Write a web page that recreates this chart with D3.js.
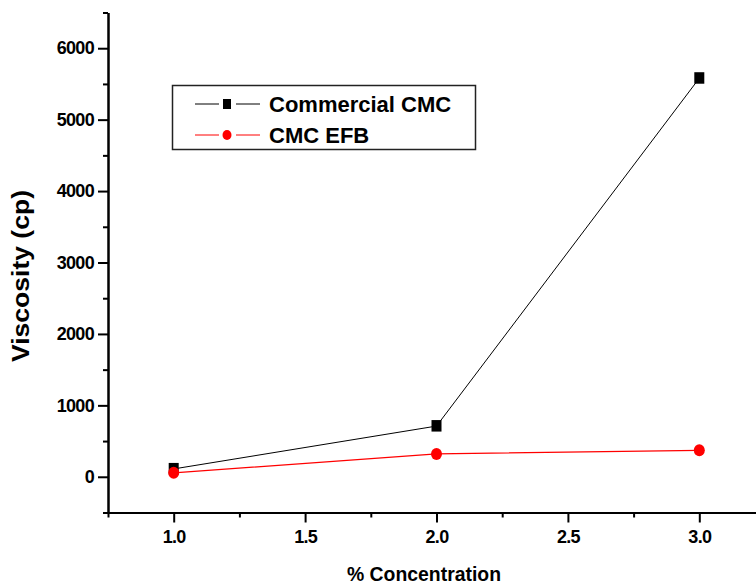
<!DOCTYPE html>
<html>
<head>
<meta charset="utf-8">
<script src="https://cdn.jsdelivr.net/npm/d3@7"></script>
<style>
  body { margin: 0; background: #fff; }
  svg text { font-family: "Liberation Sans", Arial, sans-serif; font-weight: bold; }
</style>
</head>
<body>
<div id="chart"></div>
<script>
// data
var concentration = [1.0, 2.0, 3.0];
var commercialCMC = [110, 710, 5580];
var cmcEFB = [55, 320, 370];
var seriesNames = ["Commercial CMC", "CMC EFB"];
var xTicks = [1.0, 1.5, 2.0, 2.5, 3.0];
var xMinorTicks = [0.75, 1.25, 1.75, 2.25, 2.75, 3.25];
var yTicks = [0, 1000, 2000, 3000, 4000, 5000, 6000];
var yMinorTicks = [-500, 500, 1500, 2500, 3500, 4500, 5500, 6500];

var width = 756, height = 584;

var svg = d3.select("#chart").append("svg")
  .attr("width", width)
  .attr("height", height);

// scales
var x = d3.scaleLinear().domain([0.75, 3.25]).range([108, 765]);
var y = d3.scaleLinear().domain([-500, 6500]).range([512.5, 12.5]);

// x axis
svg.append("g")
  .attr("transform", "translate(0," + y(-500) + ")")
  .call(d3.axisBottom(x).tickValues(xTicks).tickSize(10).tickSizeOuter(0).tickPadding(8)
    .tickFormat(d3.format(".1f")));
svg.append("g")
  .attr("transform", "translate(0," + y(-500) + ")")
  .call(d3.axisBottom(x).tickValues(xMinorTicks).tickSize(5).tickSizeOuter(0).tickFormat(""));

// y axis
svg.append("g")
  .attr("transform", "translate(" + x(0.75) + ",0)")
  .call(d3.axisLeft(y).tickValues(yTicks).tickSize(10).tickSizeOuter(0).tickPadding(4)
    .tickFormat(d3.format("d")));
svg.append("g")
  .attr("transform", "translate(" + x(0.75) + ",0)")
  .call(d3.axisLeft(y).tickValues(yMinorTicks).tickSize(5).tickSizeOuter(0).tickFormat(""));

svg.selectAll(".domain, .tick line").attr("stroke", "#000").attr("stroke-width", 2);
svg.selectAll(".tick text").attr("fill", "#000")
  .style("font-size", "18px").style("letter-spacing", "-0.7px");

// axis titles
svg.append("text")
  .attr("transform", "translate(29,276) rotate(-90)")
  .attr("text-anchor", "middle")
  .attr("textLength", 172)
  .attr("lengthAdjust", "spacingAndGlyphs")
  .style("font-size", "23px")
  .text("Viscosity (cp)");

svg.append("text")
  .attr("x", 424)
  .attr("y", 581)
  .attr("text-anchor", "middle")
  .attr("textLength", 154)
  .attr("lengthAdjust", "spacingAndGlyphs")
  .style("font-size", "21px")
  .text("% Concentration");

// lines
var line = d3.line()
  .x(function(d, i) { return x(concentration[i]); })
  .y(function(d) { return y(d); });

svg.append("path").datum(commercialCMC)
  .attr("d", line).attr("fill", "none").attr("stroke", "#000").attr("stroke-width", 1);
svg.append("path").datum(cmcEFB)
  .attr("d", line).attr("fill", "none").attr("stroke", "#ff0000").attr("stroke-width", 1.2);

// markers
svg.append("g").selectAll("rect")
  .data(commercialCMC).enter()
  .append("rect")
  .attr("x", function(d, i) { return x(concentration[i]) - 5; })
  .attr("y", function(d) { return y(d) - 6; })
  .attr("width", 10)
  .attr("height", 11.5)
  .attr("fill", "#000");

svg.append("g").selectAll("ellipse")
  .data(cmcEFB).enter()
  .append("ellipse")
  .attr("cx", function(d, i) { return x(concentration[i]); })
  .attr("cy", function(d) { return y(d); })
  .attr("rx", 5.5)
  .attr("ry", 6)
  .attr("fill", "#ff0000");

// legend
var legend = svg.append("g");
legend.append("rect")
  .attr("x", 172.5).attr("y", 85.5)
  .attr("width", 303).attr("height", 64)
  .attr("fill", "#fff").attr("stroke", "#222").attr("stroke-width", 1.5);

var legendY = [104, 135];
var legendColors = ["#000", "#ff0000"];
seriesNames.forEach(function(name, i) {
  var ly = legendY[i];
  legend.append("line").attr("x1", 195).attr("x2", 219).attr("y1", ly).attr("y2", ly)
    .attr("stroke", legendColors[i]).attr("stroke-width", 1);
  legend.append("line").attr("x1", 236).attr("x2", 260).attr("y1", ly).attr("y2", ly)
    .attr("stroke", legendColors[i]).attr("stroke-width", 1);
  if (i == 0) {
    legend.append("rect").attr("x", 223).attr("y", ly - 5).attr("width", 8).attr("height", 10)
      .attr("fill", "#000");
  } else {
    legend.append("ellipse").attr("cx", 227).attr("cy", ly).attr("rx", 4.5).attr("ry", 5)
      .attr("fill", "#ff0000");
  }
  legend.append("text")
    .attr("x", 269).attr("y", ly + 8)
    .style("font-size", "22px")
    .text(name);
});
</script>
</body>
</html>
